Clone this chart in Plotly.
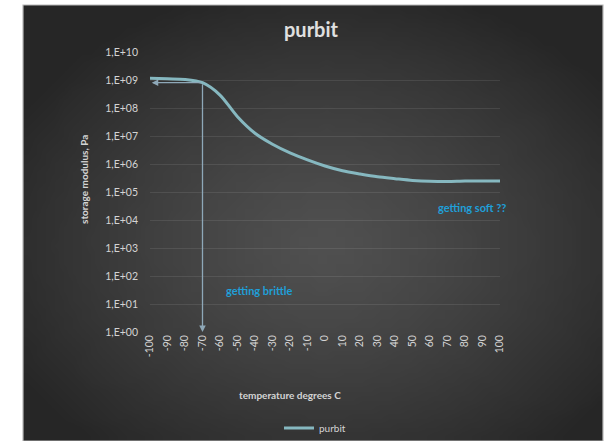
import base64
import math
import struct
import zlib

import plotly.graph_objects as go

# Storage modulus (Pa) versus temperature (deg C) for "purbit"
temperature = [-100, -90, -80, -70, -60, -50, -40, -30, -20, -10, 0,
               10, 20, 30, 40, 50, 60, 70, 80, 90, 100]
modulus = [1.15e9, 1.1e9, 1.05e9, 8.0e8, 2.9e8, 4.9e7, 1.26e7, 5.1e6, 2.5e6,
           1.4e6, 8.5e5, 5.75e5, 4.4e5, 3.5e5, 3.0e5, 2.6e5, 2.4e5, 2.35e5,
           2.45e5, 2.45e5, 2.45e5]

y_tick_exponents = list(range(0, 11))
y_tick_labels = ["1,E+%02d" % e for e in y_tick_exponents]
x_tick_labels = [str(t) for t in temperature]

brittle_temp = -70
brittle_label = "getting brittle"
soft_label = "getting soft ??"

W, H = 605, 441
ML, MR, MT, MB = 150, 105, 52, 109
PW, PH = W - ML - MR, H - MT - MB


def px_to_paper(px, py):
    return (px - ML) / PW, (H - MB - py) / PH


def gradient_png(w, h):
    """Small radial gradient, stretched over the chart card."""
    rows = []
    for j in range(h):
        row = bytearray([0])
        for i in range(w):
            dx = (i / (w - 1) - 0.52) / 0.62
            dy = (j / (h - 1) - 0.55) / 0.62
            d = min(1.0, math.sqrt(dx * dx + dy * dy))
            v = int(round(80 - (80 - 38) * d ** 1.3))
            row += bytes([v, v, v])
        rows.append(bytes(row))
    raw = b"".join(rows)

    def chunk(tag, data):
        c = struct.pack(">I", len(data)) + tag + data
        return c + struct.pack(">I", zlib.crc32(tag + data) & 0xFFFFFFFF)

    png = b"\x89PNG\r\n\x1a\n"
    png += chunk(b"IHDR", struct.pack(">IIBBBBB", w, h, 8, 2, 0, 0, 0))
    png += chunk(b"IDAT", zlib.compress(raw, 9))
    png += chunk(b"IEND", b"")
    return "data:image/png;base64," + base64.b64encode(png).decode()


line_color = "#86b8c0"
arrow_color = "#8ea8b8"
note_color = "#1f9fd8"
text_color = "#d4d4d4"
font_family = "Lato, 'Open Sans', sans-serif"

fig = go.Figure()
fig.add_trace(go.Scatter(
    x=temperature, y=modulus, mode="lines", name="purbit",
    line=dict(color=line_color, width=3, shape="spline", smoothing=0.8),
))

# card background
cx0, cy0 = px_to_paper(23, 441)
cx1, cy1 = px_to_paper(603, 5)
fig.add_layout_image(dict(
    source=gradient_png(64, 48), xref="paper", yref="paper",
    x=cx0, y=cy1, sizex=cx1 - cx0, sizey=cy1 - cy0,
    xanchor="left", yanchor="top", sizing="stretch", layer="below",
))
fig.add_shape(type="rect", xref="paper", yref="paper",
              x0=cx0, y0=cy0, x1=cx1, y1=cy1,
              line=dict(color="#b8b8b8", width=1.2), layer="below")

# brittle point arrows: left to the y axis and down to the x axis
brittle_val = modulus[temperature.index(brittle_temp)]
log_b = math.log10(brittle_val)
fig.add_annotation(x=temperature[0] + 1, y=log_b, ax=brittle_temp, ay=log_b,
                   xref="x", yref="y", axref="x", ayref="y", text="",
                   showarrow=True, arrowhead=2, arrowsize=1, arrowwidth=1.3,
                   arrowcolor=arrow_color)
fig.add_annotation(x=brittle_temp, y=y_tick_exponents[0], ax=brittle_temp, ay=log_b,
                   xref="x", yref="y", axref="x", ayref="y", text="",
                   showarrow=True, arrowhead=2, arrowsize=1, arrowwidth=1.3,
                   arrowcolor=arrow_color)

fig.add_annotation(x=-38, y=1.5, xref="x", yref="y", text="<b>%s</b>" % brittle_label,
                   showarrow=False, font=dict(color=note_color, size=11, family=font_family))
fig.add_annotation(x=84, y=4.45, xref="x", yref="y", text="<b>%s</b>" % soft_label,
                   showarrow=False, font=dict(color=note_color, size=11, family=font_family))

# axis titles
tx, ty = px_to_paper(290, 403)
fig.add_annotation(x=tx, y=ty, xref="paper", yref="paper",
                   text="<b>temperature degrees C</b>", showarrow=False,
                   font=dict(color=text_color, size=10, family=font_family))
ax_, ay_ = px_to_paper(76, 180)
fig.add_annotation(x=ax_, y=ay_, xref="paper", yref="paper", textangle=-90,
                   text="<b>storage modulus, Pa</b>", showarrow=False,
                   font=dict(color=text_color, size=10, family=font_family))

lx, ly = px_to_paper(315, 428)
fig.update_layout(
    width=W, height=H,
    margin=dict(l=ML, r=MR, t=MT, b=MB, autoexpand=False),
    paper_bgcolor="white",
    plot_bgcolor="rgba(0,0,0,0)",
    title=dict(text="<b>purbit</b>", x=px_to_paper(311, 0)[0], xref="paper",
               xanchor="center", y=1 - 30 / H, yanchor="middle",
               font=dict(color="#e0e0e0", size=20, family=font_family)),
    showlegend=True,
    legend=dict(x=lx, y=ly, xanchor="center", yanchor="middle",
                orientation="h", bgcolor="rgba(0,0,0,0)",
                font=dict(color=text_color, size=10, family=font_family),
                itemwidth=30),
    xaxis=dict(range=[temperature[0], temperature[-1]], tickmode="array",
               tickvals=temperature, ticktext=x_tick_labels, tickangle=-90,
               showgrid=False, zeroline=False, showline=False, automargin=False,
               tickfont=dict(color=text_color, size=10.5, family=font_family)),
    yaxis=dict(type="log", range=[y_tick_exponents[0], y_tick_exponents[-1]],
               tickmode="array", tickvals=[10 ** e for e in y_tick_exponents],
               ticktext=y_tick_labels, showgrid=True, automargin=False,
               gridcolor="rgba(255,255,255,0.09)", gridwidth=1,
               zeroline=False, showline=False, ticklabelstandoff=11,
               tickfont=dict(color=text_color, size=10.5, family=font_family)),
)

fig.write_html("out.html")
